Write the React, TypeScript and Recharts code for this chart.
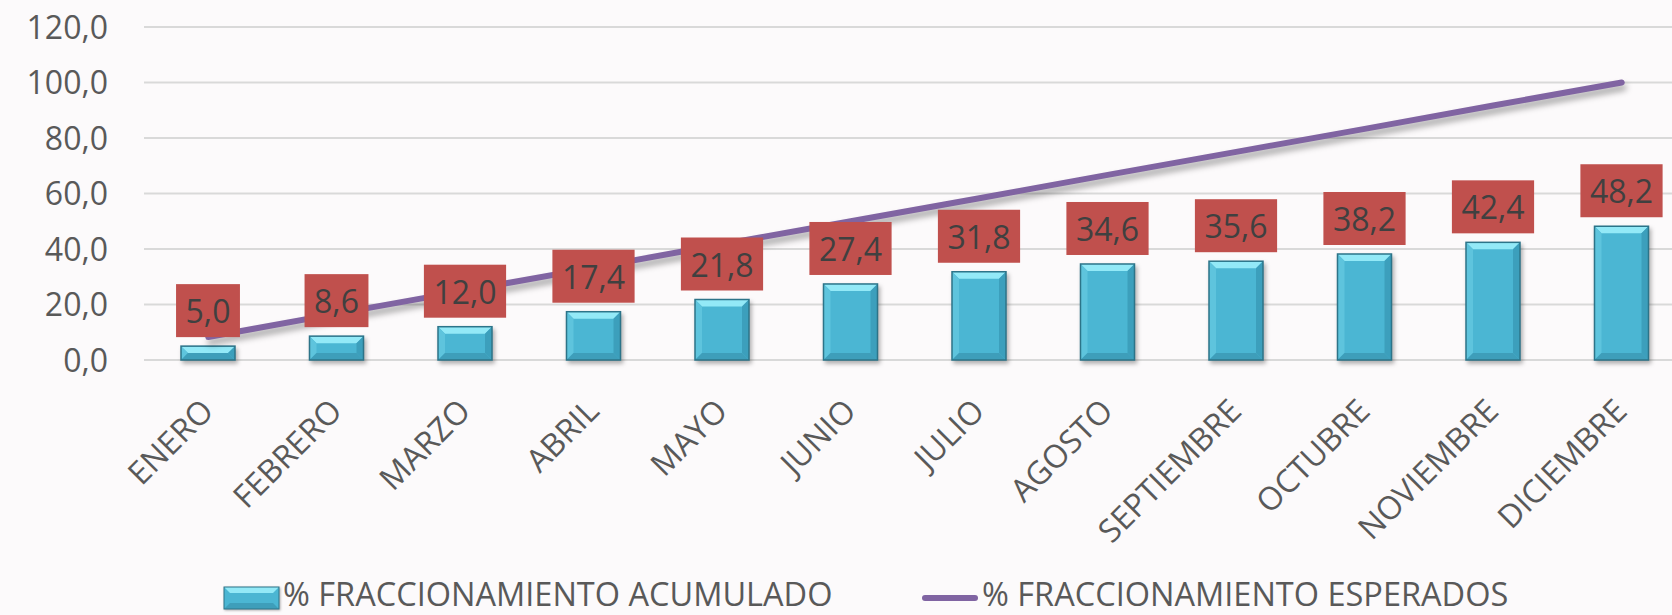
import React from 'react';
import { ComposedChart, Bar, Line, XAxis, YAxis, CartesianGrid, LabelList, Legend } from 'recharts';

const months = ['ENERO', 'FEBRERO', 'MARZO', 'ABRIL', 'MAYO', 'JUNIO', 'JULIO', 'AGOSTO', 'SEPTIEMBRE', 'OCTUBRE', 'NOVIEMBRE', 'DICIEMBRE'];
const acumulado = [5.0, 8.6, 12.0, 17.4, 21.8, 27.4, 31.8, 34.6, 35.6, 38.2, 42.4, 48.2];
const esperados = [8.3, 16.7, 25.0, 33.3, 41.7, 50.0, 58.3, 66.7, 75.0, 83.3, 91.7, 100.0];
const yTicks = [0, 20, 40, 60, 80, 100, 120];
const seriesNames = ['% FRACCIONAMIENTO ACUMULADO', '% FRACCIONAMIENTO ESPERADOS'];

const data = months.map((m, i) => ({ month: m, acum: acumulado[i], esp: esperados[i] }));

const FONT = '"Open Sans", sans-serif';
const fmt = (v: number) => v.toFixed(1).replace('.', ',');

const BevelBar = (props: any) => {
  const { x, y, width: w, height: h } = props;
  if (!(h > 0)) return null;
  const b = Math.min(7, h / 2, w / 2);
  return (
    <g style={{ filter: 'drop-shadow(2px 3px 2px rgba(0,0,0,0.3))' }}>
      <rect x={x} y={y} width={w} height={h} fill="#4BB6D3" />
      <polygon points={`${x},${y} ${x + w},${y} ${x + w - b},${y + b} ${x + b},${y + b}`} fill="#93E9F7" />
      <polygon points={`${x},${y} ${x + b},${y + b} ${x + b},${y + h - b} ${x},${y + h}`} fill="#5EC4DD" />
      <polygon points={`${x + w},${y} ${x + w - b},${y + b} ${x + w - b},${y + h - b} ${x + w},${y + h}`} fill="#3C9FBC" />
      <polygon points={`${x},${y + h} ${x + b},${y + h - b} ${x + w - b},${y + h - b} ${x + w},${y + h}`} fill="#3E9EBA" />
      <rect x={x} y={y} width={w} height={h} fill="none" stroke="#2C7489" strokeWidth={1.5} />
    </g>
  );
};

const renderLabel = (props: any) => {
  const { x, y, width, value } = props;
  const s = fmt(Number(value));
  const digits = s.replace(',', '').length;
  const tw = digits * 18.3 + 8.3;
  const bw = tw + 19;
  const bh = 53;
  const cx = x + width / 2;
  const top = y - 9 - bh;
  return (
    <g>
      <rect x={cx - bw / 2} y={top} width={bw} height={bh} fill="#C0504D" />
      <text x={cx} y={top + bh / 2 + 12.5} textAnchor="middle" fill="#404040" fontSize={32} fontFamily={FONT}>{s}</text>
    </g>
  );
};

const XTick = (props: any) => {
  const { x, payload } = props;
  return (
    <g transform={`translate(${x + 7},${413})`}>
      <text x={0} y={0} transform="rotate(-45)" textAnchor="end" fill="#595959" fontSize={32} fontFamily={FONT}>{payload.value}</text>
    </g>
  );
};

const YTick = (props: any) => {
  const { y, payload } = props;
  return (
    <text x={108} y={y + 11.5} textAnchor="end" fill="#595959" fontSize={32} fontFamily={FONT}>{fmt(payload.value)}</text>
  );
};

const LegendContent = () => (
  <svg width={1672} height={45} style={{ display: 'block', overflow: 'visible' }}>
    <g transform="translate(0,-570)">
      <g style={{ filter: 'drop-shadow(1px 1px 1px rgba(0,0,0,0.3))' }}>
        <rect x={224} y={587} width={55} height={22} fill="#4BB6D3" />
        <polygon points="224,587 279,587 273,593 230,593" fill="#93E9F7" />
        <polygon points="224,609 230,603 273,603 279,609" fill="#3E9EBA" />
        <rect x={224} y={587} width={55} height={22} fill="none" stroke="#2C7489" strokeWidth={1} />
      </g>
      <text x={283} y={606} fill="#595959" fontSize={32.5} fontFamily={FONT}>{seriesNames[0]}</text>
      <line x1={925} y1={598} x2={975} y2={598} stroke="#8064A2" strokeWidth={6} strokeLinecap="round" />
      <text x={982} y={606} fill="#595959" fontSize={32.5} fontFamily={FONT}>{seriesNames[1]}</text>
    </g>
  </svg>
);

export default function App() {
  return (
    <div style={{ position: 'absolute', left: 0, top: 0, width: 1672, height: 615, overflow: 'hidden', background: '#FCFAFB' }}>
      <style>{`.esp-line .recharts-line-curve { filter: drop-shadow(2px 5px 3px rgba(0,0,0,0.35)); }`}</style>
      <ComposedChart width={1700} height={615} data={data} margin={{ top: 27, right: 14, left: 0, bottom: 0 }}>
        <CartesianGrid horizontal={true} vertical={false} stroke="#D9D9D9" strokeWidth={2} />
        <XAxis dataKey="month" axisLine={false} tickLine={false} interval={0} height={210} tick={<XTick />} />
        <YAxis domain={[0, 120]} ticks={yTicks} axisLine={false} tickLine={false} width={144} tick={<YTick />} />
        <Legend verticalAlign="bottom" height={45} content={<LegendContent />} wrapperStyle={{ left: 0, bottom: 0, width: 1672, height: 45 }} />
        <Line className="esp-line" dataKey="esp" name={seriesNames[1]} stroke="#8064A2" strokeWidth={6} strokeLinecap="round" dot={false} activeDot={false} isAnimationActive={false} type="linear" />
        <Bar dataKey="acum" name={seriesNames[0]} barSize={54} shape={<BevelBar />} isAnimationActive={false}>
          <LabelList dataKey="acum" content={renderLabel} />
        </Bar>
      </ComposedChart>
    </div>
  );
}
